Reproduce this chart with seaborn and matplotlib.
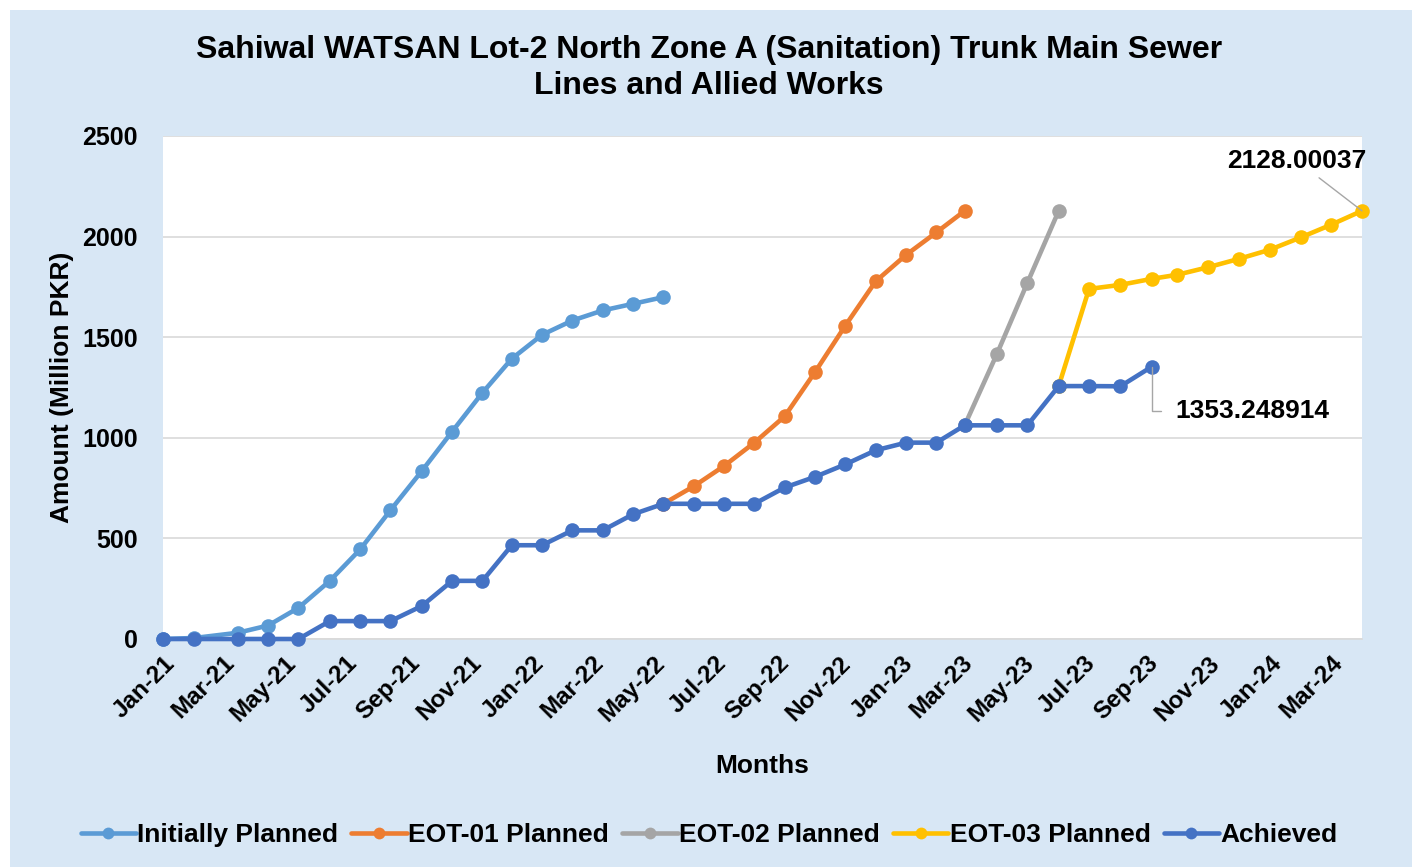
import matplotlib
matplotlib.use("Agg")
import matplotlib.pyplot as plt
import matplotlib.dates as mdates
from matplotlib.lines import Line2D
from matplotlib.patches import Rectangle
import seaborn as sns
import pandas as pd

# ---------------- data ----------------
months = pd.to_datetime([
    "2021-01-01", "2021-02-01", "2021-03-16", "2021-04-15", "2021-05-15", "2021-06-15",
    "2021-07-15", "2021-08-14", "2021-09-14", "2021-10-14", "2021-11-13", "2021-12-12",
    "2022-01-11", "2022-02-10", "2022-03-12", "2022-04-11", "2022-05-11", "2022-06-10",
    "2022-07-10", "2022-08-09", "2022-09-08", "2022-10-08", "2022-11-07", "2022-12-07",
    "2023-01-06", "2023-02-05", "2023-03-05", "2023-04-06", "2023-05-06", "2023-06-06",
    "2023-07-06", "2023-08-06", "2023-09-06", "2023-10-01", "2023-11-01", "2023-12-01",
    "2024-01-01", "2024-02-01", "2024-03-01", "2024-04-01",
])

initially_planned = [0, 5, 31, 67, 155, 289, 445, 640, 835, 1031, 1224, 1393,
                     1512, 1583, 1633, 1666, 1699]
eot01_planned = [672, 759, 860, 976, 1107, 1327, 1558, 1778, 1909, 2021, 2128]
eot02_planned = [1062, 1418, 1770, 2128]
eot03_planned = [1257, 1740, 1760, 1790, 1810, 1848, 1889, 1935, 1997, 2058, 2128.00037]
achieved = [0, 0, 0, 0, 0, 89, 89, 89, 164, 289, 289, 466, 466, 540, 540, 620, 672,
            672, 672, 672, 753, 806, 868, 938, 976, 976, 1062, 1062, 1062, 1257, 1257,
            1256, 1353.248914]

series = [
    ("Initially Planned", months[0:17], initially_planned, "#5B9BD5"),
    ("EOT-01 Planned", months[16:27], eot01_planned, "#ED7D31"),
    ("EOT-02 Planned", months[26:30], eot02_planned, "#A5A5A5"),
    ("EOT-03 Planned", months[29:40], eot03_planned, "#FFC000"),
    ("Achieved", months[0:33], achieved, "#4472C4"),
]

title = "Sahiwal WATSAN Lot-2 North Zone A (Sanitation) Trunk Main Sewer\nLines and Allied Works"
y_ticks = [0, 500, 1000, 1500, 2000, 2500]

# ---------------- style ----------------
sns.set_theme(style="white")
plt.rcParams["font.family"] = ["Liberation Sans", "DejaVu Sans"]
plt.rcParams["font.weight"] = "bold"
for k in ["text.color", "axes.labelcolor", "xtick.color", "ytick.color"]:
    plt.rcParams[k] = "black"

W, H = 1418, 867
fig = plt.figure(figsize=(W / 100, H / 100), dpi=100, facecolor="white")
fig.patches.append(Rectangle((10 / W, 0), 1402 / W, 1 - 10 / H, transform=fig.transFigure,
                             facecolor="#D8E7F5", edgecolor="none", zorder=-10))

ax = fig.add_axes([163 / W, 1 - 639 / H, (1362 - 163) / W, (639 - 136) / H])
ax.set_facecolor("white")

for name, x, y, c in series:
    sns.lineplot(x=x, y=y, ax=ax, color=c, linewidth=3.3, marker="o", markersize=10.5,
                 markeredgewidth=0, label=None, legend=False, zorder=3, clip_on=False)

ax.set_xlim(pd.Timestamp("2021-01-01"), pd.Timestamp("2024-04-01"))
ax.set_ylim(0, 2500)
ax.set_yticks(y_ticks)
ax.grid(axis="y", color="#D9D9D9", linewidth=1.2)
ax.grid(axis="x", visible=False)
for s in ["top", "right", "left"]:
    ax.spines[s].set_visible(False)
ax.spines["bottom"].set_color("#D9D9D9")
ax.spines["bottom"].set_linewidth(1.2)

ax.xaxis.set_major_locator(mdates.MonthLocator(bymonth=[1, 3, 5, 7, 9, 11]))
ax.xaxis.set_major_formatter(mdates.DateFormatter("%b-%y"))
ax.tick_params(axis="x", which="major", direction="out", length=5, width=1,
               color="#D9D9D9", labelcolor="black", pad=4, labelsize=17.5)
ax.tick_params(axis="y", length=0, pad=18, labelsize=18, labelcolor="black")
for lab in ax.get_xticklabels():
    lab.set_rotation(45)
    lab.set_ha("right")
    lab.set_rotation_mode("anchor")
    lab.set_fontweight("bold")
for lab in ax.get_yticklabels():
    lab.set_fontweight("bold")

ax.set_xlabel("Months", fontsize=19, fontweight="bold", labelpad=20)
ax.set_ylabel("Amount (Million PKR)", fontsize=19, fontweight="bold", labelpad=6)

fig.text(0.5, 1 - 68 / H, title, ha="center", va="center", fontsize=23,
         fontweight="bold", linespacing=1.3)

# data labels
ax.annotate("2128.00037", xy=(months[39], eot03_planned[-1]), xytext=(-65, 50),
            textcoords="offset pixels", ha="center", va="center", fontsize=19,
            fontweight="bold",
            arrowprops=dict(arrowstyle="-", color="#A6A6A6", lw=1, shrinkA=2, shrinkB=0))
ax.annotate("1353.248914", xy=(months[32], achieved[-1]), xytext=(24, -44),
            textcoords="offset pixels", ha="left", va="center", fontsize=19,
            fontweight="bold",
            arrowprops=dict(arrowstyle="-", color="#A6A6A6", lw=1, shrinkA=8, shrinkB=0,
                            relpos=(0, 0.5),
                            connectionstyle="angle,angleA=0,angleB=90,rad=0"))

handles = [Line2D([0], [0], color=c, lw=3.3, marker="o", markersize=8.5, markeredgewidth=0)
           for _, _, _, c in series]
labels = [n for n, _, _, _ in series]
fig.legend(handles, labels, loc="center", bbox_to_anchor=(0.5, 1 - 835 / H), ncol=5,
           frameon=False, handlelength=2.1, handletextpad=0.05,
           columnspacing=0.5, prop={"weight": "bold", "size": 19})

fig.savefig("out.png", dpi=100, facecolor=fig.get_facecolor())
